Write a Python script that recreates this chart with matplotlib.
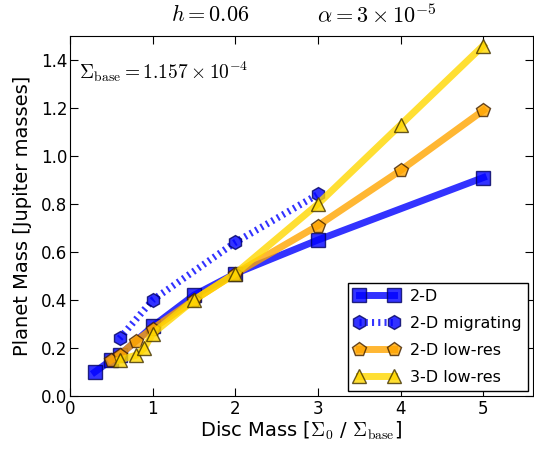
import matplotlib
matplotlib.use("Agg")
import matplotlib.pyplot as plt

# ── data ─────────────────────────────────────────────────────────────────────
x_2d = [0.3, 0.5, 0.6, 1.0, 1.5, 2.0, 3.0, 5.0]
y_2d = [0.10, 0.15, 0.17, 0.29, 0.42, 0.51, 0.65, 0.91]

x_mig = [0.6, 1.0, 2.0, 3.0]
y_mig = [0.24, 0.40, 0.64, 0.84]

x_lr2 = [0.5, 0.6, 0.8, 1.0, 1.5, 2.0, 3.0, 4.0, 5.0]
y_lr2 = [0.15, 0.17, 0.23, 0.28, 0.40, 0.51, 0.71, 0.94, 1.19]

x_lr3 = [0.6, 0.8, 0.9, 1.0, 1.5, 2.0, 3.0, 4.0, 5.0]
y_lr3 = [0.15, 0.17, 0.20, 0.26, 0.40, 0.51, 0.80, 1.13, 1.46]

plt.rcParams["mathtext.fontset"] = "cm"
plt.rcParams["xtick.direction"] = "in"
plt.rcParams["ytick.direction"] = "in"
plt.rcParams["xtick.top"] = True
plt.rcParams["ytick.right"] = True
plt.rcParams["lines.scale_dashes"] = False

fig = plt.figure(figsize=(5.34, 4.49), dpi=100)
ax = fig.add_axes([0.131, 0.118, 0.867, 0.802])

ax.plot(x_2d, y_2d, "-", marker="s", color="blue", alpha=0.8, lw=5,
        ms=10, mec="#000060", label="2-D", zorder=3)
ax.plot(x_mig, y_mig, marker="h", color="blue", alpha=0.8, lw=5,
        linestyle=(0, (1.5, 3.0)), ms=10, mec="#000060",
        label="2-D migrating", zorder=3)
ax.plot(x_lr2, y_lr2, "-", marker="p", color="orange", alpha=0.8, lw=5,
        ms=10, mec="#402000", label="2-D low-res", zorder=4)
ax.plot(x_lr3, y_lr3, "-", marker="^", color="gold", alpha=0.8, lw=5,
        ms=10, mec="#403000", label="3-D low-res", zorder=5)

ax.set_xlim(0, 5.6)
ax.set_ylim(0, 1.5)
ax.set_xticks([0, 1, 2, 3, 4, 5])
ax.set_yticks([0.0, 0.2, 0.4, 0.6, 0.8, 1.0, 1.2, 1.4])
ax.tick_params(labelsize=12, length=6)
ax.tick_params(axis="y", pad=2)
ax.tick_params(axis="x", pad=3)
ax.set_xlabel(r"Disc Mass [$\Sigma_0$ / $\Sigma_{\rm base}$]", fontsize=14, labelpad=1)
ax.set_ylabel("Planet Mass [Jupiter masses]", fontsize=14, labelpad=6)

ax.text(0.02, 0.9, r"$\Sigma_{\rm base} = 1.157\times10^{-4}$",
        transform=ax.transAxes, fontsize=14, va="center", ha="left")
fig.text(0.393, 0.967, r"$h = 0.06$", fontsize=16, ha="center", va="center")
fig.text(0.706, 0.967, r"$\alpha = 3\times10^{-5}$", fontsize=16, ha="center", va="center")

leg = ax.legend(loc="lower right", numpoints=2, fontsize=11.5, fancybox=False,
                framealpha=1, edgecolor="black", handlelength=2.8,
                labelspacing=0.75, borderaxespad=0.3, handletextpad=0.7)
leg.get_frame().set_linewidth(1.0)

fig.savefig("out.png", dpi=100, facecolor="white")
